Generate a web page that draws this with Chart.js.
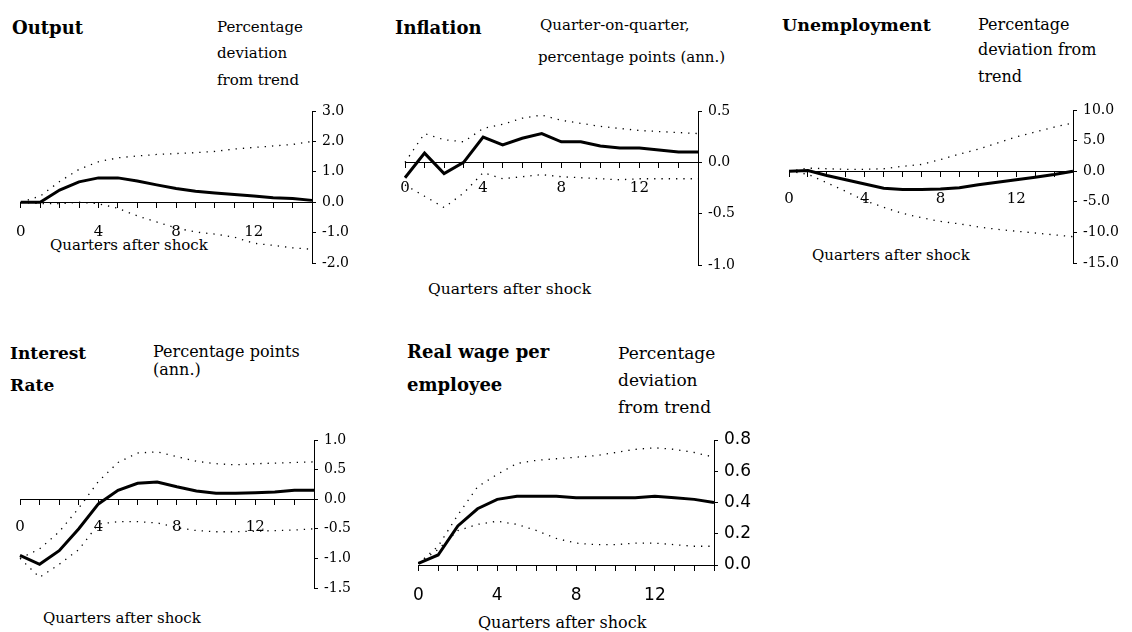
<!DOCTYPE html>
<html>
<head>
<meta charset="utf-8">
<script src="https://cdn.jsdelivr.net/npm/chart.js@4.4.0/dist/chart.umd.min.js"></script>
<style>
  html, body { margin: 0; padding: 0; background: #fff; }
  body { width: 1132px; height: 632px; position: relative; overflow: hidden; font-family: "DejaVu Serif", serif; color: #000; }
  canvas { position: absolute; }
  .t { position: absolute; white-space: nowrap; line-height: 20px; height: 20px; }
</style>
</head>
<body>
<script>
// Quarters after the shock, shared by all panels
const quarters = [0, 1, 2, 3, 4, 5, 6, 7, 8, 9, 10, 11, 12, 13, 14, 15];
const quarterLabels = [0, 4, 8, 12];

// Output, % deviation from trend
const outputMean  = [0.0, 0.0, 0.4, 0.67, 0.8, 0.8, 0.7, 0.57, 0.45, 0.36, 0.3, 0.25, 0.2, 0.15, 0.12, 0.06];
const outputUpper = [0.0, 0.2, 0.68, 1.08, 1.33, 1.46, 1.52, 1.57, 1.6, 1.63, 1.67, 1.75, 1.8, 1.85, 1.9, 2.0];
const outputLower = [0.0, -0.05, -0.05, 0.0, -0.05, -0.2, -0.45, -0.65, -0.85, -0.98, -1.05, -1.15, -1.35, -1.42, -1.5, -1.55];
const outputTicks = [-2, -1, 0, 1, 2, 3];

// Inflation, q-on-q percentage points (ann.)
const inflMean  = [-0.15, 0.09, -0.11, 0.0, 0.245, 0.17, 0.235, 0.28, 0.2, 0.2, 0.16, 0.14, 0.14, 0.12, 0.1, 0.1];
const inflUpper = [0.0, 0.28, 0.22, 0.2, 0.33, 0.37, 0.43, 0.46, 0.41, 0.38, 0.35, 0.33, 0.31, 0.3, 0.29, 0.28];
const inflLower = [-0.22, -0.33, -0.44, -0.3, -0.1, -0.16, -0.14, -0.12, -0.14, -0.15, -0.16, -0.17, -0.16, -0.16, -0.16, -0.16];
const inflTicks = [-1.0, -0.5, 0.0, 0.5];

// Unemployment, % deviation from trend
const unempMean  = [0, 0.1, -0.7, -1.4, -2.1, -2.8, -3.0, -3.0, -2.9, -2.7, -2.2, -1.8, -1.4, -1.0, -0.55, 0];
const unempUpper = [0, 0.5, 0.4, 0.3, 0.3, 0.4, 0.8, 1.1, 1.9, 2.8, 3.6, 4.6, 5.6, 6.4, 7.2, 7.9];
const unempLower = [0, -0.5, -1.9, -3.3, -4.8, -5.9, -6.9, -7.6, -8.2, -8.6, -9.1, -9.5, -9.8, -10.1, -10.4, -10.7];
const unempTicks = [-15, -10, -5, 0, 5, 10];

// Interest rate, percentage points (ann.)
const rateMean  = [-0.95, -1.1, -0.87, -0.5, -0.08, 0.15, 0.27, 0.29, 0.21, 0.14, 0.1, 0.1, 0.11, 0.12, 0.15, 0.15];
const rateUpper = [-1.0, -0.84, -0.55, -0.15, 0.3, 0.62, 0.78, 0.8, 0.72, 0.64, 0.6, 0.58, 0.6, 0.61, 0.62, 0.63];
const rateLower = [-1.0, -1.32, -1.1, -0.85, -0.42, -0.38, -0.38, -0.4, -0.48, -0.53, -0.55, -0.55, -0.54, -0.53, -0.52, -0.5];
const rateTicks = [-1.5, -1.0, -0.5, 0.0, 0.5, 1.0];

// Real wage per employee, % deviation from trend
const wageMean  = [0.01, 0.064, 0.25, 0.36, 0.42, 0.44, 0.44, 0.44, 0.43, 0.43, 0.43, 0.43, 0.44, 0.43, 0.42, 0.40];
const wageUpper = [0.01, 0.12, 0.32, 0.5, 0.58, 0.65, 0.67, 0.68, 0.69, 0.7, 0.72, 0.74, 0.75, 0.74, 0.72, 0.69];
const wageLower = [0.01, 0.1, 0.22, 0.26, 0.28, 0.26, 0.22, 0.17, 0.14, 0.13, 0.13, 0.14, 0.14, 0.13, 0.12, 0.12];
const wageTicks = [0.0, 0.2, 0.4, 0.6, 0.8];

// Headings and notes: [text, left, centre y, size, bold]
const notes = [
    ["Output", 12, 28, 18, true],
    ["Percentage", 217, 27, 15],
    ["deviation", 217, 53, 15],
    ["from trend", 217, 80, 15],
    ["Quarters after shock", 50, 245, 15],
    ["Inflation", 395, 28, 18, true],
    ["Quarter-on-quarter,", 540, 25, 15],
    ["percentage points (ann.)", 538, 57, 15],
    ["Quarters after shock", 428, 289, 15.5],
    ["Unemployment", 782, 25, 17.5, true],
    ["Percentage", 978, 25, 16],
    ["deviation from", 978, 50, 16],
    ["trend", 978, 77, 16],
    ["Quarters after shock", 812, 255, 15],
    ["Interest", 10, 353, 17, true],
    ["Rate", 10, 385, 17, true],
    ["Percentage points", 153, 352, 16],
    ["(ann.)", 153, 370, 16],
    ["Quarters after shock", 43, 618, 15],
    ["Real wage per", 407, 352, 18, true],
    ["employee", 407, 385, 18, true],
    ["Percentage", 618, 353, 17],
    ["deviation", 618, 380, 17],
    ["from trend", 618, 407, 17],
    ["Quarters after shock", 478, 623, 16],
];

notes.forEach(([text, left, cy, size, bold]) => {
    const d = document.createElement("div");
    d.className = "t";
    d.textContent = text;
    d.style.left = left + "px";
    d.style.top = (cy - 10) + "px";
    d.style.fontSize = size + "px";
    if (bold) d.style.fontWeight = "bold";
    document.body.appendChild(d);
});

function points(vals) {
    return quarters.map((q, i) => ({ x: q, y: vals[i] }));
}

// box = plot area in page pixels
function makePanel(box, mean, upper, lower, yTicks, opt) {
    const cv = document.createElement("canvas");
    const w = (box.x1 - box.x0) + 90;
    const h = (box.y1 - box.y0) + 65;
    cv.width = w;
    cv.height = h;
    cv.style.left = (box.x0 - 20) + "px";
    cv.style.top = (box.y0 - 20) + "px";
    document.body.appendChild(cv);

    const dotted = (vals) => ({
        data: points(vals), borderColor: "#000", borderWidth: 1.3,
        borderDash: [1.3, 6], pointRadius: 0, fill: false, clip: false,
    });

    new Chart(cv, {
        type: "line",
        data: {
            datasets: [
                dotted(upper),
                dotted(lower),
                { data: points(mean), borderColor: "#000", borderWidth: 3, pointRadius: 0, fill: false, clip: false },
            ],
        },
        options: {
            responsive: false,
            animation: false,
            layout: { padding: { left: 20, top: 20, right: 10, bottom: 45 } },
            plugins: { legend: { display: false }, tooltip: { enabled: false } },
            scales: {
                x: {
                    type: "linear",
                    position: { y: 0 },
                    min: 0,
                    max: 15,
                    grid: { drawOnChartArea: false, drawTicks: true, tickLength: 5, color: "#000" },
                    border: { display: true, color: "#000", width: 1 },
                    ticks: {
                        stepSize: 1,
                        autoSkip: false,
                        maxRotation: 0,
                        padding: opt.xPad,
                        color: "#000",
                        font: opt.xFont,
                        callback: (v) => (quarterLabels.includes(v) ? String(v) : ""),
                    },
                },
                y: {
                    type: "linear",
                    position: "right",
                    min: yTicks[0],
                    max: yTicks[yTicks.length - 1],
                    afterBuildTicks: (s) => { s.ticks = yTicks.map((v) => ({ value: v })); },
                    afterFit: (s) => { s.width = 60; },
                    grid: { drawOnChartArea: false, drawTicks: true, tickLength: 4, color: "#000" },
                    border: { display: true, color: "#000", width: 1 },
                    ticks: {
                        padding: 6,
                        color: "#000",
                        font: opt.yFont,
                        callback: (v) => Number(v).toFixed(1),
                    },
                },
            },
        },
    });
}

const serifTick = { family: "DejaVu Serif", size: 14 };
const serifX = { family: "DejaVu Serif", size: 15 };
const sansTick = { family: "DejaVu Sans", size: 17 };

makePanel({ x0: 20, x1: 312, y0: 111, y1: 263 }, outputMean, outputUpper, outputLower, outputTicks,
    { xPad: 16, xFont: serifX, yFont: serifTick });
makePanel({ x0: 405, x1: 698, y0: 111, y1: 265 }, inflMean, inflUpper, inflLower, inflTicks,
    { xPad: 12, xFont: serifX, yFont: serifTick });
makePanel({ x0: 789, x1: 1073, y0: 110, y1: 263 }, unempMean, unempUpper, unempLower, unempTicks,
    { xPad: 14, xFont: serifX, yFont: serifTick });
makePanel({ x0: 20, x1: 314, y0: 440, y1: 588 }, rateMean, rateUpper, rateLower, rateTicks,
    { xPad: 14, xFont: serifX, yFont: serifTick });
makePanel({ x0: 418, x1: 714, y0: 440, y1: 565 }, wageMean, wageUpper, wageLower, wageTicks,
    { xPad: 15, xFont: sansTick, yFont: sansTick });
</script>
</body>
</html>
